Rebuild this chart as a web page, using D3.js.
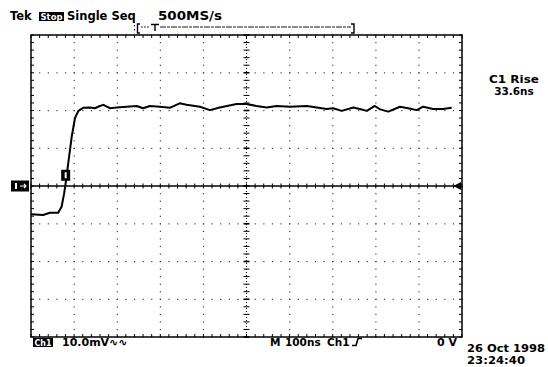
<!DOCTYPE html>
<html>
<head>
<meta charset="utf-8">
<script src="https://cdn.jsdelivr.net/npm/d3@7"></script>
<style>
  body { margin: 0; background: #fff; }
  svg { display: block; }
  text { font-family: "DejaVu Sans", sans-serif; font-weight: bold; fill: #000; }
</style>
</head>
<body>
<div id="chart"></div>
<script>
// Trace: time in ns from left edge, amplitude in mV
const traceTime = [0, 28, 44, 63, 71, 77, 80.5, 86.5, 94.5, 102, 110, 121, 137, 148, 160, 168, 183, 199,
  222, 245, 260, 276, 299, 322, 345, 361, 392, 415, 438, 477, 500, 523, 547, 570, 601, 640, 663, 686,
  701, 721, 748, 763, 779, 798, 810, 829, 856, 875, 895, 910, 933, 956, 976];
const traceMv = [-7.5, -7.7, -7.1, -7.1, -5.5, -1.9, 0.8, 6.1, 13.1, 18.0, 19.9, 20.7, 20.8, 20.6, 21.2, 21.5, 20.6, 20.8,
  21.0, 21.2, 20.6, 21.2, 21.0, 20.7, 21.9, 21.5, 21.0, 20.1, 20.8, 21.7, 21.7, 21.2, 20.8, 21.2, 21.0, 21.2, 20.8, 20.4,
  20.6, 19.9, 20.8, 20.4, 19.9, 21.2, 20.3, 19.7, 21.0, 20.6, 20.1, 21.0, 20.4, 20.4, 20.7];

// graticule: 10 x 100ns, 8 x 10mV
const timeDivs = [0, 100, 200, 300, 400, 500, 600, 700, 800, 900, 1000];
const voltDivs = [-40, -30, -20, -10, 0, 10, 20, 30, 40];

const W = 548, H = 367;
const svg = d3.select("#chart").append("svg").attr("width", W).attr("height", H);

const x = d3.scaleLinear().domain([0, 1000]).range([31, 462]);
const y = d3.scaleLinear().domain([-40, 40]).range([337, 35]);

const minorT = d3.range(0, 1000.1, 20);
const minorV = d3.range(-40, 40.1, 2);

// dotted grid
const grid = svg.append("g").attr("fill", "#444");
timeDivs.filter(t => t > 0 && t < 1000 && t !== 500).forEach(t => {
  minorV.forEach(v => grid.append("rect").attr("x", x(t) - 0.5).attr("y", y(v) - 0.5).attr("width", 1.2).attr("height", 1.2));
});
voltDivs.filter(v => v > -40 && v < 40 && v !== 0).forEach(v => {
  minorT.forEach(t => grid.append("rect").attr("x", x(t) - 0.5).attr("y", y(v) - 0.5).attr("width", 1.2).attr("height", 1.2));
});

// center vertical axis with cross ticks
svg.append("line").attr("x1", x(500)).attr("x2", x(500)).attr("y1", y(40)).attr("y2", y(-40))
  .attr("stroke", "#000").attr("stroke-width", 1).attr("stroke-dasharray", "1,2");
minorV.forEach(v => {
  svg.append("line").attr("x1", x(500) - 3).attr("x2", x(500) + 3).attr("y1", y(v)).attr("y2", y(v))
    .attr("stroke", "#000").attr("stroke-width", v % 10 === 0 ? 1.6 : 1);
});

// center horizontal axis (solid) with ticks
svg.append("line").attr("x1", x(0)).attr("x2", x(985)).attr("y1", y(0)).attr("y2", y(0))
  .attr("stroke", "#000").attr("stroke-width", 1.6);
minorT.forEach(t => {
  svg.append("line").attr("x1", x(t)).attr("x2", x(t)).attr("y1", y(0) - 2.5).attr("y2", y(0) + 2.5)
    .attr("stroke", "#000").attr("stroke-width", 1);
});

// frame with inward ticks
svg.append("rect").attr("x", x(0)).attr("y", y(40)).attr("width", x(1000) - x(0)).attr("height", y(-40) - y(40))
  .attr("fill", "none").attr("stroke", "#000").attr("stroke-width", 1.5);
const ft = svg.append("g").attr("stroke", "#000").attr("stroke-width", 1);
minorT.forEach(t => {
  ft.append("line").attr("x1", x(t)).attr("x2", x(t)).attr("y1", y(40)).attr("y2", y(40) + 3);
  ft.append("line").attr("x1", x(t)).attr("x2", x(t)).attr("y1", y(-40)).attr("y2", y(-40) - 3);
});
minorV.forEach(v => {
  ft.append("line").attr("x1", x(0)).attr("x2", x(0) + 3).attr("y1", y(v)).attr("y2", y(v));
  ft.append("line").attr("x1", x(1000)).attr("x2", x(1000) - 3).attr("y1", y(v)).attr("y2", y(v));
});

// the trace
const trace = traceTime.map((t, i) => ({ t: t, v: traceMv[i] }));
svg.append("path").datum(trace)
  .attr("fill", "none").attr("stroke", "#000").attr("stroke-width", 2).attr("stroke-linejoin", "round")
  .attr("d", d3.line().x(d => x(d.t)).y(d => y(d.v)));

// channel marker on trace
svg.append("rect").attr("x", x(70)).attr("y", y(4.3)).attr("width", 9).attr("height", 11).attr("fill", "#000");
svg.append("rect").attr("x", x(70) + 3.5).attr("y", y(4.3) + 2.5).attr("width", 2).attr("height", 6).attr("fill", "#fff");

// ground marker on left
svg.append("rect").attr("x", 11).attr("y", y(0) - 5.5).attr("width", 18).attr("height", 11).attr("fill", "#000");
svg.append("rect").attr("x", 15).attr("y", y(0) - 3).attr("width", 2).attr("height", 6).attr("fill", "#fff");
svg.append("path").attr("d", `M20,${y(0)} L26,${y(0)} M24,${y(0) - 2} L26,${y(0)} L24,${y(0) + 2}`)
  .attr("stroke", "#fff").attr("stroke-width", 1.2).attr("fill", "none");

// trigger level arrow on right
svg.append("path").attr("d", `M${x(980)},${y(0)} L${x(1000) - 1},${y(0) - 4} L${x(1000) - 1},${y(0) + 4} Z`).attr("fill", "#000");

// header
svg.append("text").attr("x", 10).attr("y", 20).attr("font-size", 11.5).text("Tek");
svg.append("rect").attr("x", 39).attr("y", 12).attr("width", 25).attr("height", 9).attr("fill", "#000");
svg.append("text").attr("x", 40.5).attr("y", 20).attr("font-size", 9).style("fill", "#fff")
  .attr("textLength", 22).attr("lengthAdjust", "spacingAndGlyphs").text("Stop");
svg.append("text").attr("x", 67).attr("y", 20).attr("font-size", 11.5).text("Single Seq");
svg.append("text").attr("x", 158).attr("y", 20).attr("font-size", 11.5)
  .attr("textLength", 64).attr("lengthAdjust", "spacingAndGlyphs").text("500MS/s");

// record view bracket
const br = svg.append("g").attr("stroke", "#000").attr("fill", "none");
br.append("path").attr("d", "M140,24 L137.5,24 L137.5,33 L140,33").attr("stroke-width", 1.4);
br.append("path").attr("d", "M134.5,25 L134.5,26.5 M134.5,29 L134.5,30.5").attr("stroke-width", 1);
br.append("path").attr("d", "M151,24.5 L159,24.5 M155,24.5 L155,31").attr("stroke-width", 1.4);
br.append("line").attr("x1", 141).attr("x2", 150).attr("y1", 27).attr("y2", 27).attr("stroke-width", 0.8).attr("stroke-dasharray", "2,1");
br.append("line").attr("x1", 160).attr("x2", 351).attr("y1", 27).attr("y2", 27).attr("stroke-width", 0.9).attr("stroke-dasharray", "6,1,3,1");
br.append("path").attr("d", "M351,24 L354,24 L354,33 L351,33").attr("stroke-width", 1.4);

// measurement readout
svg.append("text").attr("x", 514).attr("y", 83).attr("font-size", 10.5).attr("text-anchor", "middle")
  .attr("textLength", 50).attr("lengthAdjust", "spacingAndGlyphs").text("C1 Rise");
svg.append("text").attr("x", 514).attr("y", 95).attr("font-size", 10.5).attr("text-anchor", "middle").text("33.6ns");

// bottom status line
svg.append("rect").attr("x", 33).attr("y", 338).attr("width", 20).attr("height", 9).attr("fill", "#000");
svg.append("text").attr("x", 34.5).attr("y", 346).attr("font-size", 9).style("fill", "#fff")
  .attr("textLength", 17).attr("lengthAdjust", "spacingAndGlyphs").text("Ch1");
svg.append("text").attr("x", 62).attr("y", 346).attr("font-size", 11).text("10.0mV∿∿");
svg.append("text").attr("x", 270).attr("y", 346).attr("font-size", 10.5).text("M");
svg.append("text").attr("x", 285).attr("y", 346).attr("font-size", 10.5).text("100ns");
svg.append("text").attr("x", 327).attr("y", 346).attr("font-size", 10.5).text("Ch1");
svg.append("path").attr("d", "M352,345.5 L356,345.5 L358,338.5 L362,338.5")
  .attr("stroke", "#000").attr("stroke-width", 1.6).attr("fill", "none");
svg.append("text").attr("x", 457).attr("y", 346).attr("font-size", 11).attr("text-anchor", "end").text("0 V");
svg.append("text").attr("x", 467).attr("y", 352).attr("font-size", 11)
  .attr("textLength", 78).attr("lengthAdjust", "spacingAndGlyphs").text("26 Oct 1998");
svg.append("text").attr("x", 467).attr("y", 364).attr("font-size", 11)
  .attr("textLength", 58).attr("lengthAdjust", "spacingAndGlyphs").text("23:24:40");
</script>
</body>
</html>
